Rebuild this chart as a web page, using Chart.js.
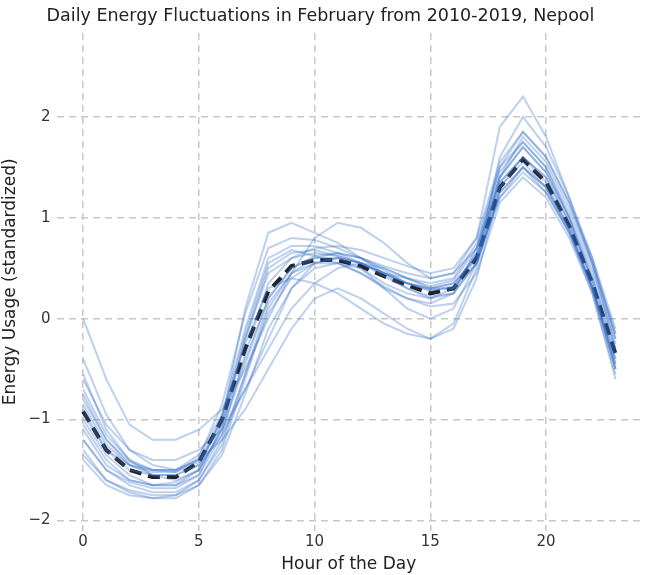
<!DOCTYPE html>
<html>
<head>
<meta charset="utf-8">
<script src="https://cdn.jsdelivr.net/npm/chart.js@4"></script>
<style>
body{margin:0;background:#fff;}
#wrap{width:647px;height:575px;}
</style>
</head>
<body>
<div id="wrap"><canvas id="c"></canvas></div>
<script>
var hours = [0,1,2,3,4,5,6,7,8,9,10,11,12,13,14,15,16,17,18,19,20,21,22,23];
var meanDay = [-0.92,-1.3,-1.5,-1.57,-1.57,-1.42,-1.0,-0.3,0.27,0.52,0.58,0.58,0.52,0.42,0.33,0.25,0.3,0.6,1.3,1.58,1.35,0.92,0.35,-0.35];
// hand-read sample of the individual daily curves
var days = [
  [-0.55,-1.1,-1.4,-1.55,-1.6,-1.5,-1.1,-0.2,0.45,0.6,0.65,0.62,0.55,0.45,0.35,0.3,0.35,0.62,1.3,1.55,1.3,0.85,0.3,-0.4],
  [-1.0,-1.35,-1.55,-1.65,-1.65,-1.5,-1.1,-0.45,0.2,0.5,0.6,0.6,0.55,0.45,0.35,0.28,0.32,0.65,1.4,1.7,1.45,1.0,0.45,-0.25],
  [-1.2,-1.5,-1.65,-1.72,-1.72,-1.6,-1.2,-0.55,0.05,0.4,0.55,0.6,0.55,0.45,0.4,0.32,0.38,0.7,1.45,1.75,1.5,1.05,0.5,-0.2],
  [-0.8,-1.2,-1.45,-1.55,-1.55,-1.45,-1.15,-0.7,-0.3,0.1,0.35,0.5,0.55,0.5,0.4,0.3,0.3,0.55,1.2,1.5,1.3,0.9,0.3,-0.45],
  [-0.4,-0.95,-1.3,-1.45,-1.5,-1.4,-1.0,0.1,0.85,0.95,0.85,0.75,0.6,0.45,0.3,0.2,0.25,0.55,1.25,1.5,1.25,0.85,0.3,-0.5],
  [-1.3,-1.6,-1.7,-1.75,-1.75,-1.65,-1.3,-0.6,0.1,0.45,0.6,0.65,0.6,0.5,0.4,0.35,0.4,0.75,1.5,1.85,1.6,1.15,0.6,-0.1],
  [0.0,-0.6,-1.05,-1.2,-1.2,-1.1,-0.9,-0.5,0.0,0.45,0.8,0.95,0.9,0.75,0.55,0.4,0.45,0.8,1.9,2.2,1.8,1.2,0.55,-0.3],
  [-0.9,-1.3,-1.45,-1.5,-1.5,-1.4,-1.2,-0.9,-0.5,-0.1,0.2,0.3,0.2,0.05,-0.1,-0.2,-0.05,0.5,1.4,1.7,1.45,1.0,0.35,-0.5],
  [-1.05,-1.4,-1.6,-1.65,-1.65,-1.55,-1.05,-0.2,0.5,0.65,0.68,0.62,0.55,0.42,0.3,0.22,0.25,0.55,1.25,1.5,1.3,0.88,0.3,-0.45],
  [-0.7,-1.15,-1.4,-1.5,-1.52,-1.38,-0.85,0.05,0.7,0.8,0.78,0.7,0.6,0.48,0.35,0.28,0.3,0.6,1.35,1.6,1.35,0.9,0.3,-0.5],
  [-1.35,-1.6,-1.72,-1.78,-1.78,-1.65,-1.35,-0.75,-0.1,0.3,0.5,0.55,0.5,0.35,0.25,0.2,0.3,0.65,1.4,1.8,1.55,1.1,0.55,-0.15],
  [-0.6,-1.05,-1.3,-1.4,-1.4,-1.3,-1.1,-0.7,-0.2,0.3,0.55,0.6,0.5,0.3,0.1,0.0,0.1,0.55,1.6,2.0,1.7,1.2,0.6,-0.2],
  [-1.1,-1.45,-1.6,-1.65,-1.62,-1.5,-0.95,-0.1,0.6,0.72,0.72,0.65,0.55,0.45,0.35,0.3,0.35,0.6,1.2,1.45,1.25,0.85,0.25,-0.55],
  [-0.85,-1.25,-1.45,-1.52,-1.52,-1.42,-1.05,-0.4,0.2,0.5,0.62,0.65,0.6,0.52,0.45,0.4,0.45,0.7,1.35,1.6,1.4,0.95,0.4,-0.3],
  [-1.4,-1.65,-1.75,-1.78,-1.75,-1.6,-1.25,-0.55,0.15,0.45,0.55,0.55,0.45,0.3,0.2,0.15,0.25,0.7,1.5,1.75,1.5,1.0,0.4,-0.35],
  [-0.75,-1.2,-1.42,-1.5,-1.5,-1.35,-0.95,-0.25,0.3,0.4,0.35,0.25,0.1,-0.05,-0.15,-0.2,-0.1,0.4,1.3,1.6,1.4,0.95,0.35,-0.4],
  [-1.2,-1.5,-1.62,-1.68,-1.68,-1.55,-1.15,-0.35,0.35,0.6,0.7,0.72,0.68,0.6,0.52,0.45,0.5,0.8,1.55,1.85,1.6,1.15,0.55,-0.15],
  [-0.95,-1.3,-1.5,-1.55,-1.55,-1.45,-1.0,-0.15,0.55,0.68,0.62,0.55,0.45,0.32,0.2,0.12,0.15,0.45,1.15,1.4,1.2,0.8,0.25,-0.6]
];
var xTicks = [0,5,10,15,20];

var datasets = days.map(function(d){
  return {
    data: hours.map(function(h,i){ return {x:h, y:d[i]}; }),
    borderColor: 'rgba(50,110,200,0.32)', borderWidth: 2,
    pointRadius: 0, tension: 0
  };
});
datasets.push({
  data: hours.map(function(h,i){ return {x:h, y:meanDay[i]}; }),
  borderColor: '#222', borderWidth: 4, borderDash: [12,7],
  pointRadius: 0, tension: 0
});

new Chart(document.getElementById('c'), {
  type: 'line',
  data: { datasets: datasets },
  options: {
    responsive: true, maintainAspectRatio: false, animation: false,
    layout: { padding: { left: 0, right: 6, top: 2, bottom: 0 } },
    plugins: {
      legend: { display: false }, tooltip: { enabled: false },
      title: { display: true, text: 'Daily Energy Fluctuations in February from 2010-2019, Nepool',
        color: '#222', font: { family: 'DejaVu Sans', size: 17.5, weight: 'normal' }, padding: { top: 4, bottom: 6 } }
    },
    scales: {
      x: {
        type: 'linear', min: -1.15, max: 24.1,
        afterBuildTicks: function(s){ s.ticks = xTicks.map(function(v){ return {value:v}; }); },
        grid: { color: '#c8c8c8', lineWidth: 1.5, drawTicks: false },
        border: { display: false, dash: [7,5] },
        ticks: { color: '#333', padding: 3, font: { family: 'DejaVu Sans', size: 15 } },
        title: { display: true, text: 'Hour of the Day', color: '#222', font: { family: 'DejaVu Sans', size: 17 }, padding: { top: 0, bottom: 0 } }
      },
      y: {
        min: -2.1, max: 2.83,
        afterBuildTicks: function(s){ s.ticks = [-2,-1,0,1,2].map(function(v){ return {value:v}; }); },
        grid: { color: '#c8c8c8', lineWidth: 1.5, drawTicks: false },
        border: { display: false, dash: [7,5] },
        ticks: { color: '#333', padding: 6, font: { family: 'DejaVu Sans', size: 15 },
          callback: function(v){ return v < 0 ? '\u2212' + Math.abs(v) : String(v); } },
        title: { display: true, text: 'Energy Usage (standardized)', color: '#222', font: { family: 'DejaVu Sans', size: 17 }, padding: { top: 0, bottom: 2 } }
      }
    }
  }
});
</script>
</body>
</html>
